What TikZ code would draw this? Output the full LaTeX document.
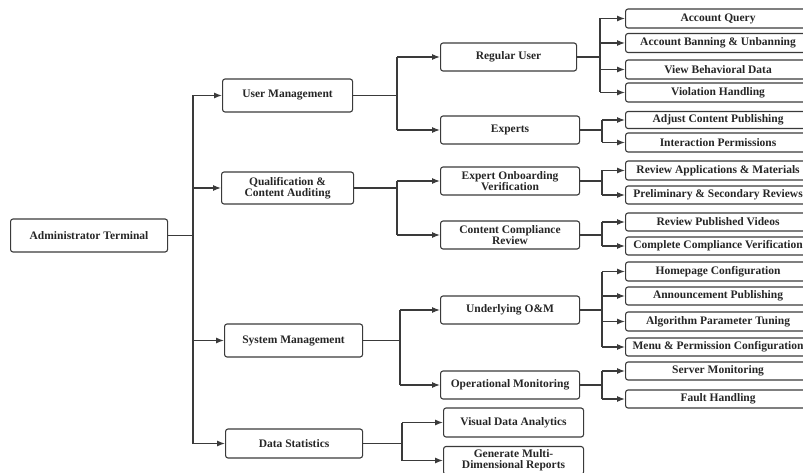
\documentclass[tikz,border=0pt]{standalone}
\usepackage{fontspec}
\setmainfont{Liberation Serif}
\usetikzlibrary{arrows.meta}
\definecolor{ln}{HTML}{3A3A3A}
\tikzset{
  box/.style={draw=ln, line width=1.1pt, rounded corners=2.5pt, anchor=west, inner sep=0pt,
    align=center, font=\bfseries\fontsize{11.5}{11}\selectfont, text=black!85},
  conn/.style={draw=ln, line width=1.1pt},
  arr/.style={conn, -{Latex[length=8pt,width=6pt]}},
}
\newcommand{\bx}[6]{% name, left, right, cy, h, text
  \node[box, minimum width=#3pt-#2pt, minimum height=#5pt] (#1) at (#2,-#4) {#6};}
\begin{document}
\begin{tikzpicture}[x=1pt,y=1pt]
\useasboundingbox (0,0) rectangle (803,-473);
% root
\bx{root}{10}{167}{235.5}{33}{Administrator Terminal}
% level 1
\bx{um}{222}{352}{95.5}{33}{User Management}
\bx{qa}{221}{353}{188}{32}{Qualification \&\\Content Auditing}
\bx{sm}{224}{362}{340.5}{33}{System Management}
\bx{ds}{225}{362}{443.5}{29}{Data Statistics}
% level 2
\bx{ru}{440}{576}{57}{28}{Regular User}
\bx{ex}{440}{579}{130}{28}{Experts}
\bx{eo}{440}{579}{181}{28}{Expert Onboarding\\Verification}
\bx{cc}{440}{579}{235}{28}{Content Compliance\\Review}
\bx{uo}{440}{579}{310}{28}{Underlying O\&M}
\bx{om}{440}{579}{385}{28}{Operational Monitoring}
\bx{vd}{443}{583}{422.5}{29}{Visual Data Analytics}
\bx{gm}{443}{583}{460.5}{28}{Generate Multi-\\Dimensional Reports}
% level 3
\bx{aq}{625}{810}{18.5}{19}{Account Query}
\bx{ab}{625}{810}{43}{19}{Account Banning \& Unbanning}
\bx{vb}{625}{810}{69.5}{19}{View Behavioral Data}
\bx{vh}{625}{810}{92.5}{19}{Violation Handling}
\bx{ac}{625}{810}{120}{17}{Adjust Content Publishing}
\bx{ip}{625}{810}{142.5}{19}{Interaction Permissions}
\bx{ra}{625}{810}{170.5}{19}{Review Applications \& Materials}
\bx{pr}{625}{810}{195}{18}{Preliminary \& Secondary Reviews}
\bx{rp}{625}{810}{222}{18}{Review Published Videos}
\bx{ca}{625}{810}{246}{18}{Complete Compliance Verification}
\bx{hc}{625}{810}{271.5}{19}{Homepage Configuration}
\bx{ap}{625}{810}{296}{18}{Announcement Publishing}
\bx{al}{625}{810}{321.5}{19}{Algorithm Parameter Tuning}
\bx{mp}{625}{810}{347}{18}{Menu \& Permission Configuration}
\bx{sv}{625}{810}{371}{18}{Server Monitoring}
\bx{fh}{625}{810}{399}{18}{Fault Handling}
% junctions
\coordinate (rootJ) at (193,-235.5);
\coordinate (umJ) at (397,-95.5);
\coordinate (qaJ) at (397,-188);
\coordinate (smJ) at (400,-340.5);
\coordinate (dsJ) at (402,-443.5);
\coordinate (ruJ) at (600,-57);
\coordinate (exJ) at (602,-130);
\coordinate (eoJ) at (602,-181);
\coordinate (ccJ) at (602,-235);
\coordinate (uoJ) at (602,-310);
\coordinate (omJ) at (602,-385);
% connectors: parent/first/last/children
\foreach \p/\f/\l/\cs in {root/um/ds/{um,qa,sm,ds}, um/ru/ex/{ru,ex}, qa/eo/cc/{eo,cc},
  sm/uo/om/{uo,om}, ds/vd/gm/{vd,gm}, ru/aq/vh/{aq,ab,vb,vh}, ex/ac/ip/{ac,ip},
  eo/ra/pr/{ra,pr}, cc/rp/ca/{rp,ca}, uo/hc/mp/{hc,ap,al,mp}, om/sv/fh/{sv,fh}}{
  \draw[conn] (\p.east) -- (\p J);
  \draw[conn] (\p J |- \f.west) -- (\p J |- \l.west);
  \foreach \c in \cs { \draw[arr] (\p J |- \c.west) -- (\c.west); }
}
\end{tikzpicture}
\end{document}
